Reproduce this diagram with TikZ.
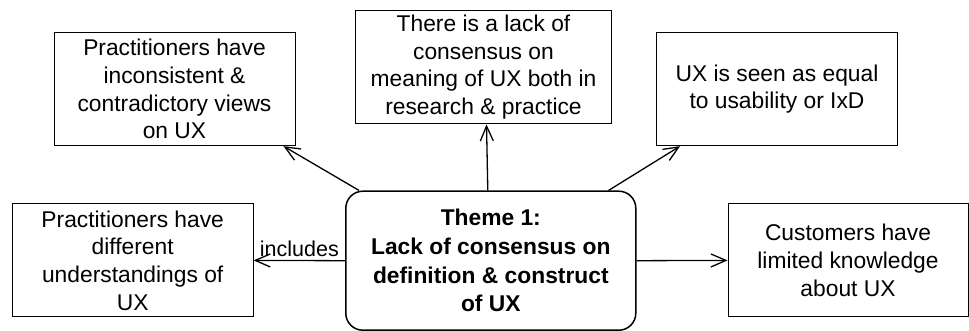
\documentclass[tikz,border=0pt]{standalone}
\usepackage{fontspec}
\setmainfont{Liberation Sans}
\usetikzlibrary{arrows.meta}
\begin{document}
\begin{tikzpicture}[x=1pt,y=-1pt,
  box/.style={draw, line width=0.9pt, rectangle, align=center, inner sep=0pt,
    font=\fontsize{22.8}{27.7}\selectfont},
  theme/.style={draw, line width=1.5pt, rounded corners=17pt, align=center, inner sep=0pt,
    font=\fontsize{22.8}{28.7}\selectfont\bfseries},
  arr/.style={line width=1.3pt, -{Straight Barb[length=15pt,width=13pt,line width=1.3pt]}}]
\useasboundingbox (0,0) rectangle (969,331);
\node[box, minimum width=241pt, minimum height=113pt] (TL) at (174.5,89.2)
  {Practitioners have\\inconsistent \&\\contradictory views\\on UX};
\node[box, minimum width=256pt, minimum height=113.5pt] (TC) at (483.5,67.2)
  {There is a lack of\\consensus on\\meaning of UX both in\\research \& practice};
\node[box, minimum width=241pt, minimum height=113pt] (TR) at (777,89.2)
  {UX is seen as equal\\to usability or IxD};
\node[box, minimum width=241pt, minimum height=113pt] (L) at (132.7,260.4)
  {Practitioners have\\different\\understandings of\\UX};
\node[box, minimum width=240pt, minimum height=113pt] (R) at (848,260.4)
  {Customers have\\limited knowledge\\about UX};
\node[theme, minimum width=290pt, minimum height=139pt] (C) at (490.8,260.7)
  {Theme 1:\\Lack of consensus on\\definition \& construct\\of UX};
\draw[arr] ([xshift=14pt]C.north west) -- ([xshift=-12pt]TL.south east);
\draw[arr] ([xshift=-3pt]C.north) -- ([xshift=3pt]TC.south);
\draw[arr] ([xshift=-28pt]C.north east) -- ([xshift=24pt]TR.south west);
\draw[arr] (C.west) -- node[above, font=\fontsize{21.5}{25}\selectfont, inner sep=3pt] (inc) {includes} (L.east);
\draw[arr] (C.east) -- (R.west);
\end{tikzpicture}
\end{document}
